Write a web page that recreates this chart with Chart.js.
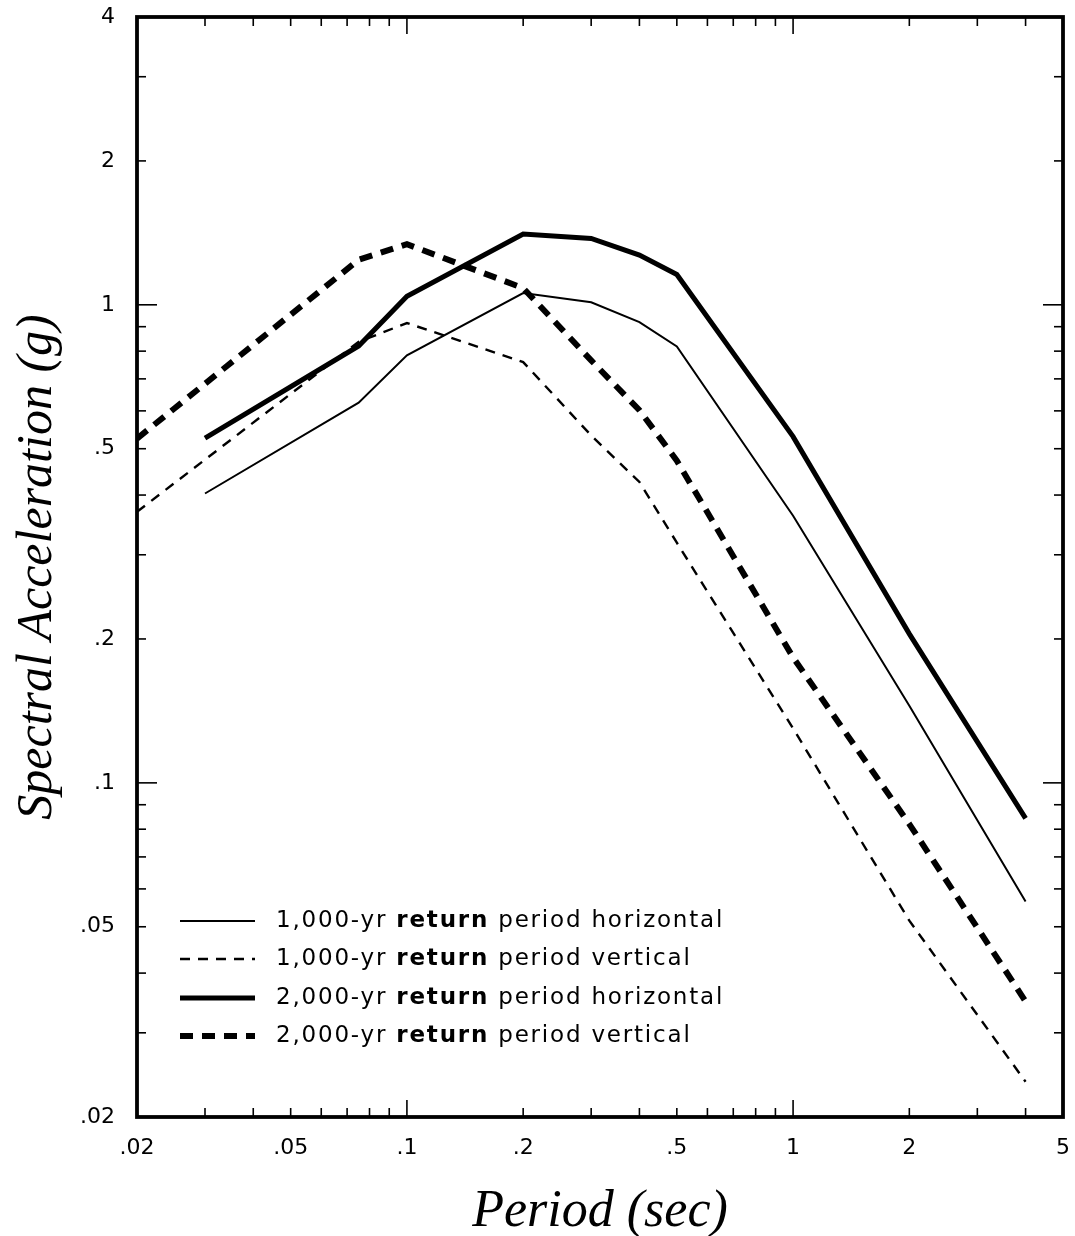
<!DOCTYPE html>
<html>
<head>
<meta charset="utf-8">
<script src="https://cdn.jsdelivr.net/npm/chart.js@4.4.0/dist/chart.umd.min.js"></script>
<style>
html,body{margin:0;padding:0;background:#fff;}
#wrap{width:1075px;height:1236px;position:relative;}
</style>
</head>
<body>
<div id="wrap"><canvas id="c" width="1075" height="1236"></canvas></div>
<script>
// ---- data ----
const periodsH = [0.03, 0.075, 0.1, 0.2, 0.3, 0.4, 0.5, 1, 2, 4];
const periodsV = [0.02, 0.075, 0.1, 0.2, 0.3, 0.4, 0.5, 1, 2, 4];
const h1000 = [0.403, 0.624, 0.784, 1.058, 1.012, 0.920, 0.818, 0.362, 0.145, 0.0565];
const v1000 = [0.369, 0.837, 0.916, 0.759, 0.533, 0.426, 0.318, 0.130, 0.0515, 0.0237];
const h2000 = [0.526, 0.820, 1.042, 1.406, 1.377, 1.271, 1.157, 0.530, 0.205, 0.0843];
const v2000 = [0.525, 1.242, 1.339, 1.084, 0.765, 0.602, 0.472, 0.183, 0.082, 0.0349];
const seriesLabels = [
  ['1,000-yr ', 'return', ' period horizontal'],
  ['1,000-yr ', 'return', ' period vertical'],
  ['2,000-yr ', 'return', ' period horizontal'],
  ['2,000-yr ', 'return', ' period vertical']
];
const xTickLabels = [0.02, 0.05, 0.1, 0.2, 0.5, 1, 2, 5];
const yTickLabels = [0.02, 0.05, 0.1, 0.2, 0.5, 1, 2, 4];
const xMinorTicks = [0.03,0.04,0.05,0.06,0.07,0.08,0.09,0.1,0.2,0.3,0.4,0.5,0.6,0.7,0.8,0.9,1,2,3,4];
const yMinorTicks = [0.03,0.04,0.05,0.06,0.07,0.08,0.09,0.1,0.2,0.3,0.4,0.5,0.6,0.7,0.8,0.9,1,2,3];
const longTicks = [0.1, 1];

const fmt = v => String(v).replace(/^0\./, '.');
const pts = (xs, ys) => xs.map((x, i) => ({x: x, y: ys[i]}));

const framePlugin = {
  id: 'frame',
  afterDatasetsDraw(chart) {
    const {ctx, chartArea: a, scales: {x, y}} = chart;
    ctx.save();
    ctx.strokeStyle = '#000';
    ctx.setLineDash([]);
    ctx.lineWidth = 1.6;
    const seg = (x1, y1, x2, y2) => { ctx.beginPath(); ctx.moveTo(x1, y1); ctx.lineTo(x2, y2); ctx.stroke(); };
    yMinorTicks.forEach(v => {
      const py = y.getPixelForValue(v);
      const L = longTicks.includes(v) ? 20 : 9;
      seg(a.left, py, a.left + L, py);
      seg(a.right, py, a.right - L, py);
    });
    xMinorTicks.forEach(v => {
      const px = x.getPixelForValue(v);
      const L = longTicks.includes(v) ? 17 : 9;
      seg(px, a.bottom, px, a.bottom - L);
      seg(px, a.top, px, a.top + L);
    });
    ctx.lineWidth = 3.8;
    ctx.strokeRect(a.left, a.top, a.right - a.left, a.bottom - a.top);
    ctx.restore();
  }
};

const legendPlugin = {
  id: 'seriesLegend',
  afterDraw(chart) {
    const {ctx, chartArea: a} = chart;
    const x0 = a.left + 43, x1 = a.left + 118, tx = a.left + 139;
    const rowY = [921, 959, 998, 1036];
    ctx.save();
    chart.data.datasets.forEach((ds, i) => {
      const yy = rowY[i];
      ctx.strokeStyle = '#000';
      ctx.lineWidth = ds.borderWidth;
      ctx.setLineDash(ds.borderDash || []);
      ctx.beginPath(); ctx.moveTo(x0, yy); ctx.lineTo(x1, yy); ctx.stroke();
      ctx.setLineDash([]);
      ctx.fillStyle = '#000';
      ctx.textBaseline = 'middle';
      ctx.textAlign = 'left';
      if ('letterSpacing' in ctx) ctx.letterSpacing = '1.8px';
      let cx = tx;
      seriesLabels[i].forEach((part, k) => {
        ctx.font = (k === 1 ? 'bold ' : '') + '23px "DejaVu Sans"';
        ctx.fillText(part, cx, yy);
        cx += ctx.measureText(part).width;
      });
    });
    ctx.restore();
  }
};

const noPadX = s => { s.height = 119; s.paddingLeft = 0; s.paddingRight = 0; };
const noPadY = s => { s.width = 137; s.paddingTop = 0; s.paddingBottom = 0; };

new Chart(document.getElementById('c').getContext('2d'), {
  type: 'line',
  data: {
    datasets: [
      {label: '1,000-yr return period horizontal', data: pts(periodsH, h1000), borderColor: '#000', borderWidth: 2, pointRadius: 0, fill: false, tension: 0},
      {label: '1,000-yr return period vertical', data: pts(periodsV, v1000), borderColor: '#000', borderWidth: 2.4, borderDash: [10, 8], pointRadius: 0, fill: false, tension: 0},
      {label: '2,000-yr return period horizontal', data: pts(periodsH, h2000), borderColor: '#000', borderWidth: 5, pointRadius: 0, fill: false, tension: 0},
      {label: '2,000-yr return period vertical', data: pts(periodsV, v2000), borderColor: '#000', borderWidth: 6, borderDash: [13, 9], pointRadius: 0, fill: false, tension: 0}
    ]
  },
  options: {
    responsive: false,
    animation: false,
    devicePixelRatio: 1,
    layout: {padding: {left: 0, right: 12, top: 17, bottom: 0}},
    plugins: {legend: {display: false}, tooltip: {enabled: false}, title: {display: false}},
    scales: {
      x: {
        type: 'logarithmic', min: 0.02, max: 5, position: 'bottom',
        afterBuildTicks: s => { s.ticks = xTickLabels.map(v => ({value: v})); },
        afterFit: noPadX,
        grid: {display: false, drawTicks: false},
        border: {display: false},
        ticks: {padding: 18, color: '#000', autoSkip: false, maxRotation: 0, font: {family: 'DejaVu Sans', size: 22}, callback: v => fmt(v)},
        title: {display: true, text: 'Period (sec)', color: '#000', font: {family: 'Liberation Serif', size: 52, style: 'italic'}, padding: {top: 0, bottom: -8}}
      },
      y: {
        type: 'logarithmic', min: 0.02, max: 4, position: 'left',
        afterBuildTicks: s => { s.ticks = yTickLabels.map(v => ({value: v})); },
        afterFit: noPadY,
        grid: {display: false, drawTicks: false},
        border: {display: false},
        ticks: {padding: 22, color: '#000', autoSkip: false, font: {family: 'DejaVu Sans', size: 22}, callback: v => fmt(v)},
        title: {display: true, text: 'Spectral Acceleration (g)', color: '#000', font: {family: 'Liberation Serif', size: 50, style: 'italic'}, padding: {top: 8, bottom: 0}}
      }
    }
  },
  plugins: [framePlugin, legendPlugin]
});
</script>
</body>
</html>
